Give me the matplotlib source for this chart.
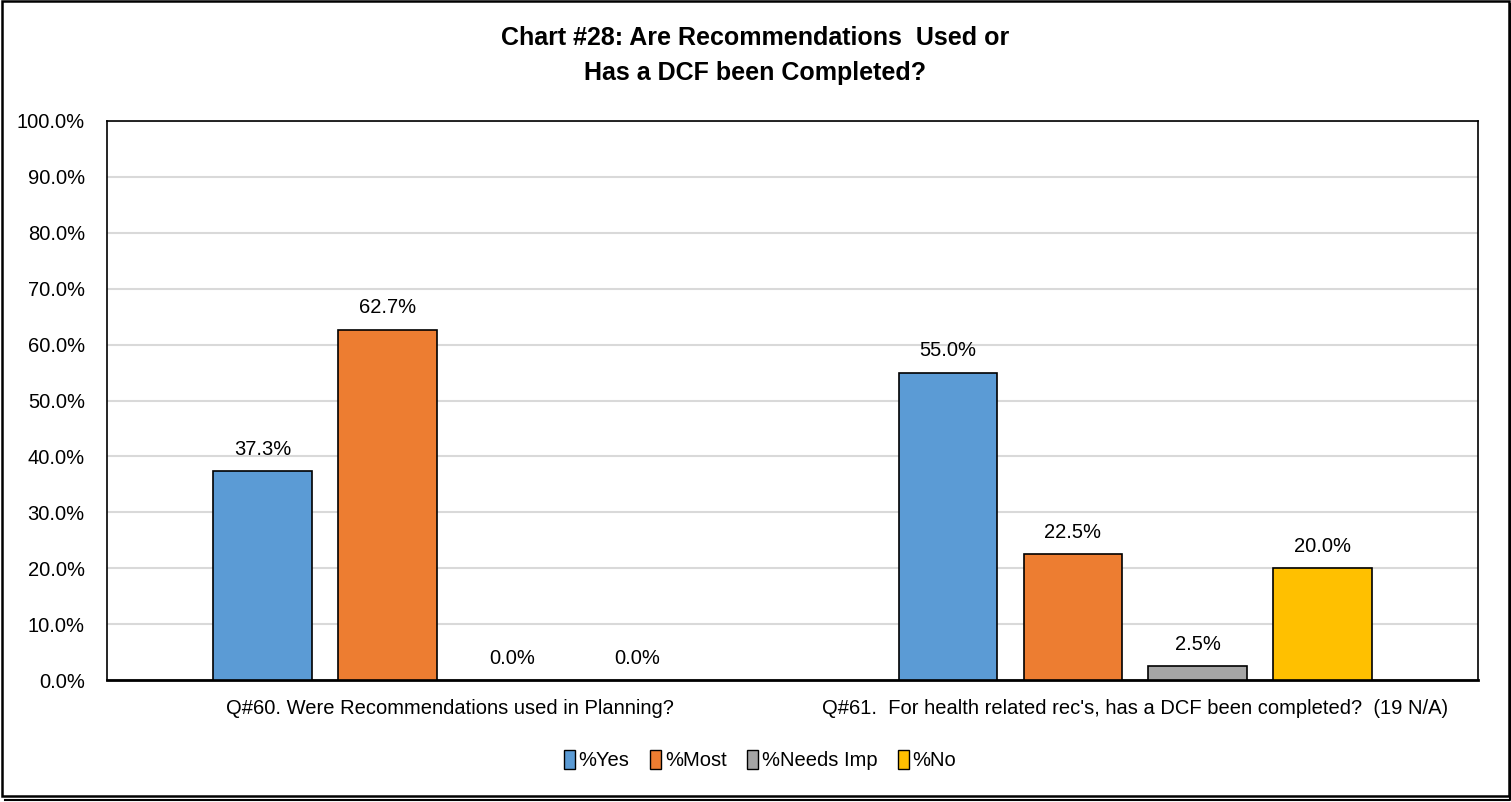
"""Chart #28: grouped bars of recommendation use / DCF completion."""

import matplotlib
matplotlib.use("Agg")
import matplotlib.pyplot as plt
from matplotlib.lines import Line2D
from matplotlib.patches import Rectangle
import numpy as np

categories = [
    "Q#60. Were Recommendations used in Planning?",
    "Q#61.  For health related rec's, has a DCF been completed?  (19 N/A)",
]
series_names = ["%Yes", "%Most", "%Needs Imp", "%No"]
series_values = [
    [37.3, 55.0],
    [62.7, 22.5],
    [0.0, 2.5],
    [0.0, 20.0],
]
colors = ["#5b9bd5", "#ed7d31", "#a5a5a5", "#ffc000"]

plt.rcParams["font.family"] = ["Liberation Sans Narrow", "Liberation Sans", "DejaVu Sans"]

W, H = 1511, 802
fig = plt.figure(figsize=(W / 100, H / 100), dpi=100)
ax = fig.add_axes([107 / W, 1 - 680 / H, 1371 / W, 559 / H])

x = np.arange(len(categories))
width = 0.144
step = 0.182
offsets = (np.arange(len(series_names)) - 1.5) * step

for i, (name, vals) in enumerate(zip(series_names, series_values)):
    vals = np.array(vals)
    # zero bars are not drawn, only their labels
    heights = np.where(vals > 0, vals, np.nan)
    ax.bar(x + offsets[i], heights, width, color=colors[i], edgecolor="black",
           linewidth=1.2, label=name, zorder=3)
    for xi, v in zip(x + offsets[i], vals):
        ax.text(xi, v + 2.2, f"{v:.1f}%", ha="center", va="bottom", fontsize=14.5)

ax.set_xlim(-0.5, 1.5)
ax.set_ylim(0, 100)
ticks = np.arange(0, 101, 10)
ax.set_yticks(ticks)
ax.set_yticklabels([f"{t:.1f}%" for t in ticks], fontsize=14.5)
ax.set_xticks(x)
ax.set_xticklabels(categories, fontsize=14.5)
ax.tick_params(axis="y", length=0, pad=16)
ax.tick_params(axis="x", length=0, pad=14)
ax.grid(axis="y", color="#d9d9d9", linewidth=1.5, zorder=0)
for side in ["left", "top", "right"]:
    ax.spines[side].set_linewidth(1.2)
ax.spines["bottom"].set_linewidth(2.0)

fig.text(0.5, 1 - 26 / H, "Chart #28: Are Recommendations  Used or\nHas a DCF been Completed?",
         ha="center", va="top", fontsize=18, fontweight="bold", linespacing=1.6)

handles = [Rectangle((0, 0), 1, 1, facecolor=c, edgecolor="black", linewidth=1) for c in colors]
fig.legend(handles, series_names, loc="center", bbox_to_anchor=(760 / W, 1 - 760 / H),
           ncol=4, frameon=False, fontsize=14.5, handlelength=0.55, handleheight=1.1,
           handletextpad=0.2, columnspacing=1.0)

# outer chart frame with a thin drop shadow on the right and bottom
fig.patches.append(Rectangle((1.5 / W, 1 - 796 / H), 1507 / W, 795 / H,
                             transform=fig.transFigure, fill=False, edgecolor="black",
                             linewidth=1.8))
fig.lines.append(Line2D([5 / W, 1510 / W, 1510 / W], [1 - 800 / H, 1 - 800 / H, 1 - 4 / H],
                        transform=fig.transFigure, color="black", linewidth=1.5))

fig.savefig("out.png", dpi=100)
